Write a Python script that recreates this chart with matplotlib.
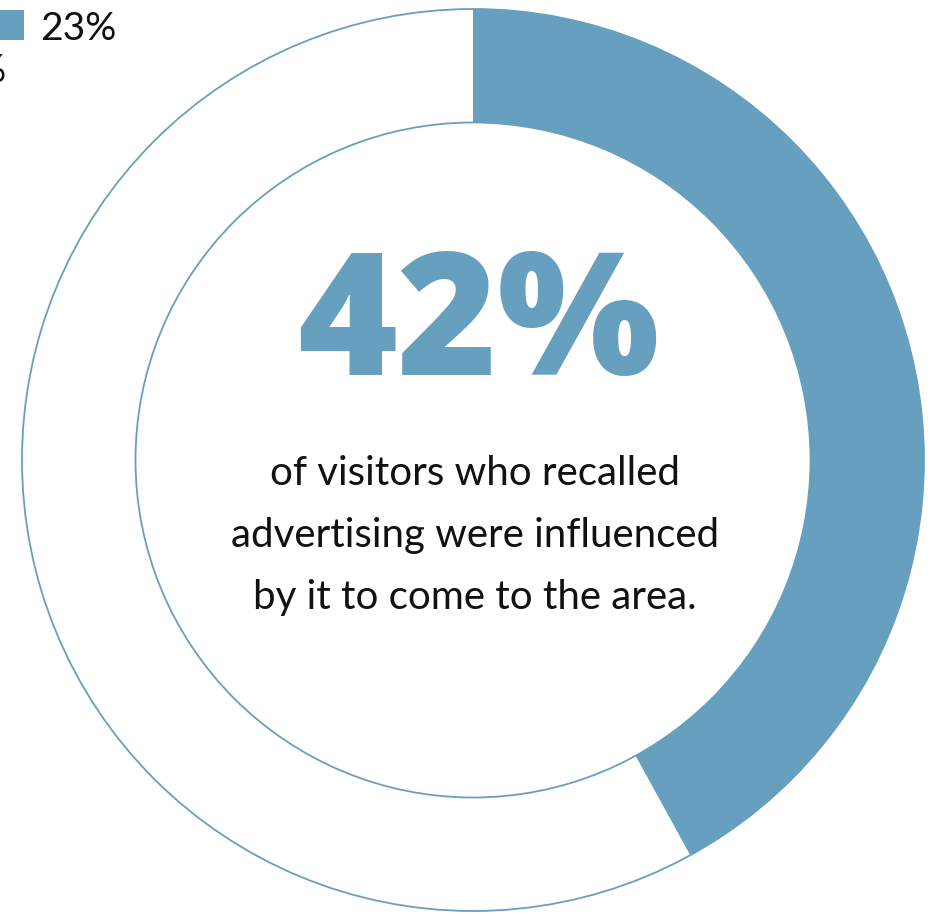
import matplotlib.pyplot as plt
from matplotlib.patches import Circle

# donut values (percent)
shares = [42, 58]
big_label = "42%"
caption = ["of visitors who recalled",
           "advertising were influenced",
           "by it to come to the area."]
# legend remnants at the left edge (cut off in the source)
legend_labels = ["23%", "19%"]

blue = "#67a0bf"
W, H = 937, 916

fig = plt.figure(figsize=(W / 100, H / 100), dpi=100)
ax = fig.add_axes([0, 0, 1, 1])

cx, cy = 473, 460
r_out, r_in = 451, 337.5

# thin outlines for the empty part of the ring
ax.add_patch(Circle((cx, cy), r_out, fill=False, ec=blue, lw=1.3))
ax.add_patch(Circle((cx, cy), r_in, fill=False, ec=blue, lw=1.3))

# y axis is inverted below, so counterclock=True runs clockwise on screen; start at 12 o'clock
ax.pie(shares, center=(cx, cy), radius=r_out, startangle=-90,
       counterclock=True, colors=[blue, "none"],
       wedgeprops=dict(width=r_out - r_in, lw=0), frame=True)
ax.set_xlim(0, W)
ax.set_ylim(H, 0)
ax.set_aspect("equal")
ax.axis("off")

ax.text(478, 375, big_label, ha="center", va="baseline", color=blue,
        fontsize=123, fontfamily="Open Sans", fontweight="extra bold")

for i, line in enumerate(caption):
    ax.text(475, 485 + 62 * i, line, ha="center", va="baseline",
            color="#111111", fontsize=29, fontfamily="Lato")

# legend pieces, mostly off the left edge
ax.add_patch(plt.Rectangle((-20, 10), 44, 30, color=blue, lw=0))
ax.text(40, 40, legend_labels[0], ha="left", va="baseline", fontsize=28,
        fontfamily="Lato", color="#111111")
ax.text(7, 82, legend_labels[1], ha="right", va="baseline", fontsize=28,
        fontfamily="Lato", color="#111111")

fig.savefig("out.png", dpi=100)
